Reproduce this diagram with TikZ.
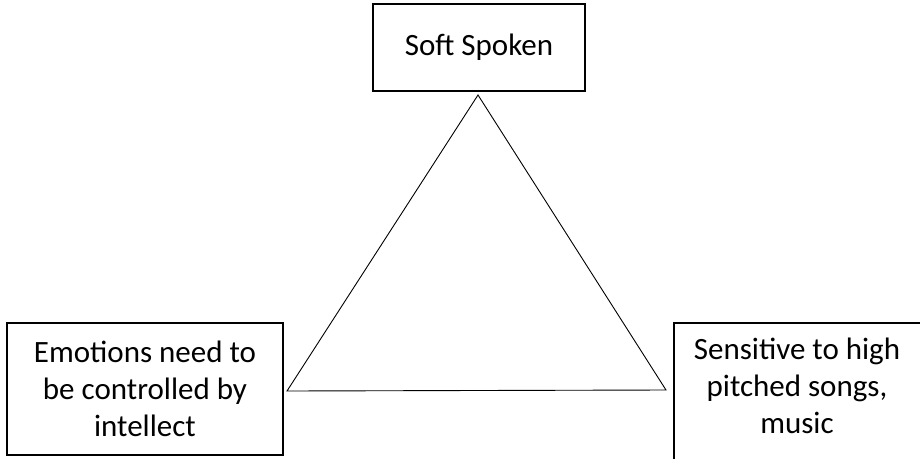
\documentclass[tikz,border=0pt]{standalone}
\usepackage{fontspec}
\setmainfont{Carlito}
\usetikzlibrary{positioning}

\begin{document}
\begin{tikzpicture}[x=1pt, y=-1pt,
    box/.style={draw, line width=1.5pt, inner sep=0pt},
    boxtext/.style={align=center, font=\fontsize{31}{37}\selectfont},
    side/.style={line width=0.9pt, line join=miter}]
        \useasboundingbox (0,0) rectangle (920,458);
        \clip (0,0) rectangle (920,458);
        \node[box, boxtext, minimum width=212pt, minimum height=87pt] (soft) at (479,47.5) {Soft Spoken};
        \node[box, boxtext, minimum width=276pt, minimum height=132pt] (emotions) at (145,389)
          {Emotions need to\\be controlled by\\intellect};
        \node[box, anchor=north west, minimum width=270pt, minimum height=150pt] (sensitive) at (673,322) {};
        \node[boxtext] (sensitivetext) at (797,386) {Sensitive to high\\pitched songs,\\music};
        \coordinate (apex) at (478,95);
        \coordinate (leftcorner) at (287,391);
        \coordinate (rightcorner) at (666,390);
        \draw[side] (apex) -- (leftcorner) -- (rightcorner) -- cycle;
\end{tikzpicture}
\end{document}
